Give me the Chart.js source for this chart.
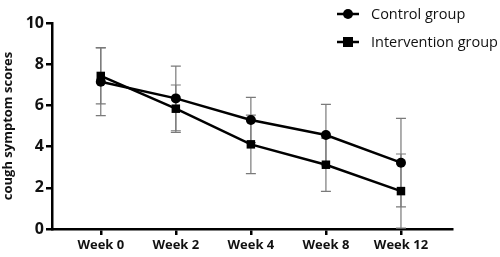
<!DOCTYPE html>
<html>
<head>
<meta charset="utf-8">
<style>
  html, body { margin: 0; padding: 0; background: #fff; }
  #wrap { width: 500px; height: 257px; }
</style>
<script src="https://cdn.jsdelivr.net/npm/chart.js"></script>
</head>
<body>
<div id="wrap"><canvas id="chart" width="500" height="257"></canvas></div>
<script>
// data (mean +/- SD)
const weeks = ['Week 0', 'Week 2', 'Week 4', 'Week 8', 'Week 12'];
const controlMean = [7.15, 6.34, 5.29, 4.56, 3.22];
const controlSD = [1.65, 1.57, 1.10, 1.49, 2.15];
const interventionMean = [7.43, 5.84, 4.11, 3.12, 1.84];
const interventionSD = [1.36, 1.15, 1.42, 1.29, 1.80];
const yTicks = [0, 2, 4, 6, 8, 10];

const FONT = '"Open Sans", "Liberation Sans", sans-serif';

// error bars drawn under the lines, using the chart scales
const errorBars = {
  id: 'errorBars',
  beforeDatasetsDraw(chart) {
    const { ctx, scales: { x, y } } = chart;
    ctx.save();
    ctx.strokeStyle = '#7a7a7a';
    ctx.lineWidth = 1.2;
    chart.data.datasets.forEach(ds => {
      ds.data.forEach((p, i) => {
        const sd = ds.sd[i];
        const px = x.getPixelForValue(p.x);
        const top = y.getPixelForValue(p.y + sd);
        const bot = y.getPixelForValue(Math.max(0, p.y - sd));
        ctx.beginPath();
        ctx.moveTo(px, top); ctx.lineTo(px, bot);
        ctx.moveTo(px - 5, top); ctx.lineTo(px + 5, top);
        ctx.moveTo(px - 5, bot); ctx.lineTo(px + 5, bot);
        ctx.stroke();
      });
    });
    ctx.restore();
  }
};

// legend with line + marker like the original
const lineLegend = {
  id: 'lineLegend',
  afterDraw(chart) {
    const { ctx } = chart;
    ctx.save();
    ctx.font = '14.5px ' + FONT;
    ctx.textBaseline = 'middle';
    chart.data.datasets.forEach((ds, i) => {
      const cy = 14 + i * 28;
      ctx.strokeStyle = '#000';
      ctx.lineWidth = 2.5;
      ctx.beginPath(); ctx.moveTo(337, cy); ctx.lineTo(359, cy); ctx.stroke();
      ctx.fillStyle = '#000';
      if (ds.pointStyle === 'rect') {
        ctx.fillRect(343, cy - 5, 10, 10);
      } else {
        ctx.beginPath(); ctx.arc(348, cy, 5, 0, Math.PI * 2); ctx.fill();
      }
      ctx.fillStyle = '#111';
      ctx.fillText(ds.label, 371, cy + 1);
    });
    ctx.restore();
  }
};

const toPoints = arr => arr.map((v, i) => ({ x: i, y: v }));

new Chart(document.getElementById('chart'), {
  type: 'line',
  data: {
    datasets: [
      {
        label: 'Control group',
        data: toPoints(controlMean),
        sd: controlSD,
        borderColor: '#000',
        backgroundColor: '#000',
        borderWidth: 2.5,
        pointStyle: 'circle',
        pointRadius: 5,
        pointBorderWidth: 0
      },
      {
        label: 'Intervention group',
        data: toPoints(interventionMean),
        sd: interventionSD,
        borderColor: '#000',
        backgroundColor: '#000',
        borderWidth: 2.5,
        pointStyle: 'rect',
        pointRadius: 6,
        pointBorderWidth: 0
      }
    ]
  },
  options: {
    responsive: false,
    animation: false,
    layout: { padding: { top: 23, right: 48, left: 0, bottom: 0 } },
    plugins: {
      legend: { display: false },
      tooltip: { enabled: false }
    },
    scales: {
      x: {
        type: 'linear',
        min: -0.65,
        max: 4.68,
        afterBuildTicks: s => { s.ticks = weeks.map((w, i) => ({ value: i })); },
        afterFit: s => { s.height = 28; },
        border: { color: '#000', width: 2.5 },
        grid: { drawOnChartArea: false, drawTicks: true, tickLength: 6, color: '#000', lineWidth: 2.5 },
        ticks: {
          color: '#111',
          padding: 2,
          maxRotation: 0,
          autoSkip: false,
          font: { family: FONT, size: 13, weight: 'bold' },
          callback: v => weeks[v] ?? ''
        }
      },
      y: {
        min: 0,
        max: 10,
        afterBuildTicks: s => { s.ticks = yTicks.map(v => ({ value: v })); },
        afterFit: s => { s.width = 52; },
        border: { color: '#000', width: 2.5 },
        grid: { drawOnChartArea: false, drawTicks: true, tickLength: 6, color: '#000', lineWidth: 2.5 },
        ticks: {
          color: '#111',
          padding: 2,
          font: { family: FONT, size: 16, weight: 'bold' }
        },
        title: {
          display: true,
          text: 'cough symptom scores',
          color: '#111',
          padding: { top: 0, bottom: 0 },
          font: { family: FONT, size: 13, weight: 'bold' }
        }
      }
    }
  },
  plugins: [errorBars, lineLegend]
});
</script>
</body>
</html>
